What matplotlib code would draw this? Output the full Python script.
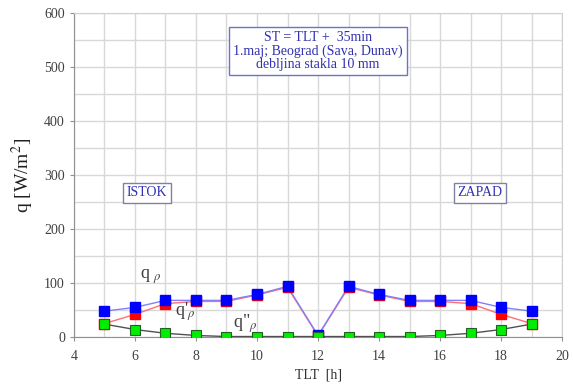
import matplotlib
matplotlib.use("Agg")
import matplotlib.pyplot as plt
from matplotlib.ticker import MultipleLocator

plt.rcParams['font.family'] = ['Liberation Serif', 'DejaVu Serif']
plt.rcParams['mathtext.fontset'] = 'stix'

hours = [5, 6, 7, 8, 9, 10, 11, 12, 13, 14, 15, 16, 17, 18, 19]
q_total = [48, 55, 68, 68, 68, 79, 94, 3, 94, 79, 68, 68, 68, 55, 48]
q_direct = [25, 42, 62, 66, 66, 78, 92, 2, 92, 78, 66, 66, 62, 42, 25]
q_diffuse = [24, 14, 7, 3, 1, 1, 1, 1, 1, 1, 1, 3, 7, 14, 24]

fig = plt.figure(figsize=(5.73, 3.87), dpi=100)
ax = fig.add_axes([0.129, 0.129, 0.852, 0.837])

ax.plot(hours, q_diffuse, color='#505050', lw=1, zorder=3)
ax.plot(hours, q_direct, color='#ff7070', lw=1, zorder=3)
ax.plot(hours, q_total, color='#8080ff', lw=1, zorder=3)
ax.plot(hours, q_direct, ls='none', marker='s', ms=6.5, mfc='#ff0000', mec='#ff0000', zorder=4)
ax.plot(hours, q_total, ls='none', marker='s', ms=6.5, mfc='#0000ff', mec='#0000ff', zorder=5)
ax.plot(hours, q_diffuse, ls='none', marker='s', ms=6.5, mfc='#00ee00', mec='#206020', mew=0.8, zorder=6)

ax.set_xlim(4, 20)
ax.set_ylim(0, 600)
ax.xaxis.set_major_locator(MultipleLocator(2))
ax.xaxis.set_minor_locator(MultipleLocator(1))
ax.yaxis.set_major_locator(MultipleLocator(100))
ax.yaxis.set_minor_locator(MultipleLocator(50))
ax.grid(which='both', color='#d8d8d8', lw=1)
ax.set_axisbelow(True)
for s in ax.spines.values():
    s.set_color('#d0d0d0')
ax.spines['left'].set_color('#909090')
ax.spines['bottom'].set_color('#909090')
ax.tick_params(axis='both', which='major', labelsize=10, colors='#909090', labelcolor='#404040', length=3)
ax.tick_params(axis='x', which='major', length=3, pad=6)
ax.tick_params(axis='both', which='minor', length=0)

ax.set_xlabel('TLT  [h]', fontsize=10, color='#303030', labelpad=4)
ax.set_ylabel(r'q [W/m$^2$]', fontsize=14, color='#202020', labelpad=6)

ax.text(12, 530, 'ST = TLT +  35min\n1.maj; Beograd (Sava, Dunav)\ndebljina stakla 10 mm',
        ha='center', va='center', fontsize=10, color='#3030b0', linespacing=1.05,
        bbox=dict(boxstyle='square,pad=0.3', fc='white', ec='#7070d0', lw=1), zorder=7)
ax.text(6.4, 267, 'ISTOK', ha='center', va='center', fontsize=10, color='#3030b0',
        bbox=dict(boxstyle='square,pad=0.25', fc='white', ec='#8080a0', lw=1), zorder=7)
ax.text(17.3, 267, 'ZAPAD', ha='center', va='center', fontsize=10, color='#3030b0',
        bbox=dict(boxstyle='square,pad=0.25', fc='white', ec='#8080a0', lw=1), zorder=7)

ax.text(6.15, 108, r'q $_{\rho}$', fontsize=13, color='#404040', zorder=8)
ax.text(7.3, 40, "q'" + r"$_{\rho}$", fontsize=13, color='#404040', zorder=8)
ax.text(9.2, 18, 'q"' + r"$_{\rho}$", fontsize=13, color='#404040', zorder=8)

fig.savefig('out.png', dpi=100)
